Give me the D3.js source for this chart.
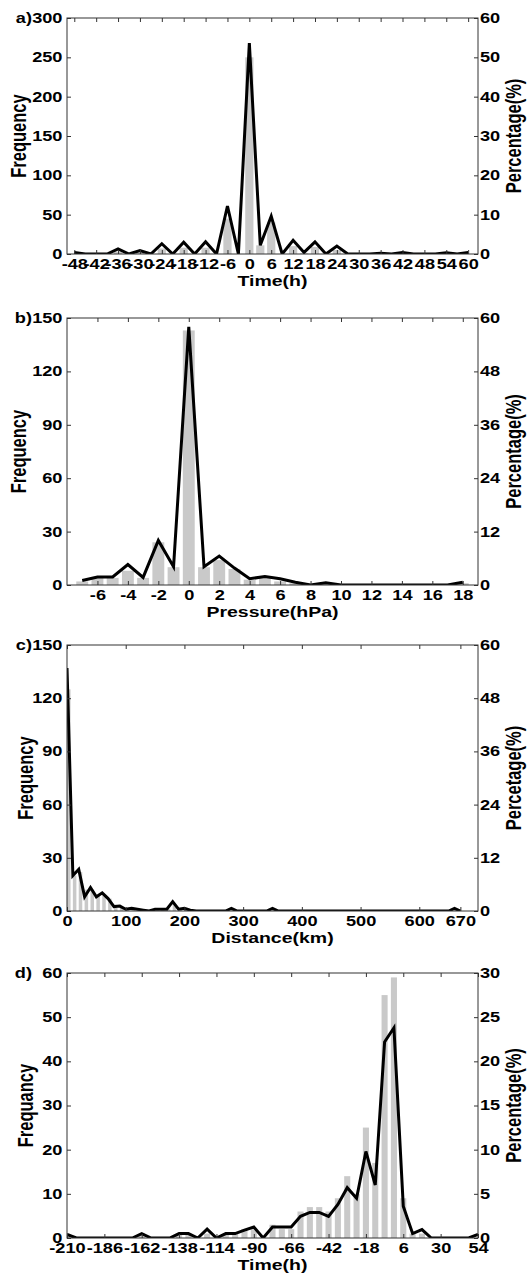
<!DOCTYPE html>
<meta charset="utf-8">
<style>
    body { margin: 0; background: #fff; }
    svg text { font-family: "Liberation Sans", Arial, sans-serif; font-weight: bold; fill: #000; }
    .axis path { display: none; }
    .axis line { stroke: #333; }
</style>
<body>
<div id="chart"></div>
<script src="https://cdn.jsdelivr.net/npm/d3@7"></script>
<script>
    // ---- data ----
    // a) time (h), bins every 3 h
    var timeA = d3.range(-48, 61, 3);
    var freqA = [0, 0, 0, 0, 3, 0, 2, 0, 7, 0, 8, 0, 8, 0, 45, 0, 250, 11, 40, 0,
                 10, 1, 9, 0, 5, 0, 0, 0, 0, 0, 1, 0, 0, 0, 0, 0, 0];
    var pctA = [0.4, 0, 0, 0, 1.3, 0, 0.9, 0, 2.6, 0, 3, 0, 3.1, 0, 12.2, 0, 53.6, 2.2, 9.6, 0,
                3.5, 0.4, 3.1, 0, 2, 0, 0, 0, 0.2, 0, 0.4, 0, 0, 0, 0.3, 0, 0.4];
    var ticksA = [-48, -42, -36, -30, -24, -18, -12, -6, 0, 6, 12, 18, 24, 30, 36, 42, 48, 54, 60];

    // b) pressure (hPa)
    var presB = d3.range(-7, 19, 1);
    var freqB = [2, 4, 4, 8, 4, 24, 10, 143, 10, 14, 9, 3, 4, 2, 1, 0, 1, 0, 0, 0,
                 0, 0, 0, 0, 0, 1];
    var pctB = [1, 1.8, 1.8, 4.6, 1.7, 10, 4.1, 58, 4.1, 6.5, 3.8, 1.4, 1.9, 1.4, 0.6, 0, 0.5, 0, 0, 0,
                0, 0, 0, 0, 0, 0.6];
    var ticksB = [-6, -4, -2, 0, 2, 4, 6, 8, 10, 12, 14, 16, 18];

    // c) distance (km), bins every 10 km
    var distC = d3.range(0, 671, 10);
    var freqC = [125, 20, 22, 12, 12, 9, 9, 7, 2, 2,
                 1, 1, 1, 0, 0, 1, 1, 1, 4, 1,
                 1, 0, 0, 0, 0, 0, 0, 0, 1, 0,
                 0, 0, 0, 0, 0, 1, 0, 0, 0, 0,
                 0, 0, 0, 0, 0, 0, 0, 0, 0, 0,
                 0, 0, 0, 0, 0, 0, 0, 0, 0, 0,
                 0, 0, 0, 0, 0, 0, 1, 0];
    var pctC = [54.8, 8, 9.4, 3.2, 5.3, 3.2, 4.1, 2.8, 1, 1.1,
                0.4, 0.6, 0.4, 0.2, 0, 0.4, 0.4, 0.4, 2.1, 0.4,
                0.6, 0.2, 0, 0, 0, 0, 0, 0, 0.6, 0,
                0, 0, 0, 0, 0, 0.6, 0, 0, 0, 0,
                0, 0, 0, 0, 0, 0, 0, 0, 0, 0,
                0, 0, 0, 0, 0, 0, 0, 0, 0, 0,
                0, 0, 0, 0, 0, 0, 0.6, 0];
    var ticksC = [0, 100, 200, 300, 400, 500, 600, 670];

    // d) time (h), bins every 6 h
    var timeD = d3.range(-210, 55, 6);
    var freqD = [1, 0, 0, 0, 0, 0, 0, 0, 1, 0,
                 0, 0, 1, 1, 0, 1, 0, 1, 1, 2,
                 2, 0, 3, 2, 2, 6, 7, 7, 6, 9,
                 14, 10, 25, 17, 55, 59, 9, 1, 1, 0,
                 0, 0, 0, 0, 0];
    var pctD = [0.4, 0, 0, 0, 0, 0, 0, 0, 0.5, 0,
                0, 0, 0.5, 0.5, 0, 1, 0, 0.5, 0.5, 0.9,
                1.25, 0, 1.25, 1.25, 1.25, 2.45, 2.9, 2.9, 2.45, 3.8,
                5.7, 4.5, 9.8, 6, 22.2, 23.8, 3.6, 0.5, 0.95, 0,
                0, 0, 0, 0, 0.4];
    var ticksD = [-210, -186, -162, -138, -114, -90, -66, -42, -18, 6, 30, 54];

    // ---- layout ----
    var W = 531, H = 1275, left = 67, right = 478, sx = 1.3, tickFont = 14;

    var panels = [
        { tag: "a)", top: 18, bottom: 254, xDom: [-50, 62.7], xs: timeA, freq: freqA, pct: pctA, xTicks: ticksA,
          fTicks: [0, 50, 100, 150, 200, 250, 300], pTicks: [0, 10, 20, 30, 40, 50, 60], step: 3, bw: 0.75, align: 0.5,
          xTitle: "Time(h)", yTitle: "Frequency", pTitle: "Percentage(%)", yx: 19 },
        { tag: "b)", top: 318, bottom: 585, xDom: [-8, 19], xs: presB, freq: freqB, pct: pctB, xTicks: ticksB,
          fTicks: [0, 30, 60, 90, 120, 150], pTicks: [0, 12, 24, 36, 48, 60], step: 1, bw: 0.78, align: 0.5,
          xTitle: "Pressure(hPa)", yTitle: "Frequency", pTitle: "Percentage(%)", yx: 19 },
        { tag: "c)", top: 645, bottom: 911, xDom: [0, 700], xs: distC, freq: freqC, pct: pctC, xTicks: ticksC,
          fTicks: [0, 30, 60, 90, 120, 150], pTicks: [0, 12, 24, 36, 48, 60], step: 10, bw: 0.6, align: 0,
          xTitle: "Distance(km)", yTitle: "Frequency", pTitle: "Percetage(%)", yx: 26 },
        { tag: "d)", top: 973, bottom: 1238, xDom: [-210, 54], xs: timeD, freq: freqD, pct: pctD, xTicks: ticksD,
          fTicks: [0, 10, 20, 30, 40, 50, 60], pTicks: [0, 5, 10, 15, 20, 25, 30], step: 6, bw: 0.65, align: 0.5,
          xTitle: "Time(h)", yTitle: "Frequancy", pTitle: "Percentage(%)", yx: 26 }
    ];

    var svg = d3.select("#chart").append("svg")
        .attr("width", W)
        .attr("height", H);

    // plain hyphen minus, as in the original figure
    var fmt = function (d) { return String(d); };

    function stretch(sel) {
        sel.selectAll("text").attr("transform", "scale(" + sx + ",1)");
    }

    panels.forEach(function (p, k) {
        var g = svg.append("g");

        var x = d3.scaleLinear().domain(p.xDom).range([left, right]);
        var y = d3.scaleLinear().domain([0, d3.max(p.fTicks)]).range([p.bottom, p.top]);
        var yp = d3.scaleLinear().domain([0, d3.max(p.pTicks)]).range([p.bottom, p.top]);

        g.append("clipPath").attr("id", "clip" + k)
            .append("rect")
            .attr("x", left).attr("y", p.top)
            .attr("width", right - left).attr("height", p.bottom - p.top);

        var plot = g.append("g").attr("clip-path", "url(#clip" + k + ")");
        var bw = (x(p.step) - x(0)) * p.bw;

        plot.selectAll("rect.bar")
            .data(p.xs)
            .join("rect")
            .attr("class", "bar")
            .attr("x", function (d) { return x(d) - bw * p.align; })
            .attr("y", function (d, i) { return y(p.freq[i]); })
            .attr("width", bw)
            .attr("height", function (d, i) { return p.bottom - y(p.freq[i]); })
            .attr("fill", "#c9c9c9");

        var line = d3.line()
            .x(function (d, i) { return x(p.xs[i]); })
            .y(function (d) { return yp(d); });

        plot.append("path")
            .datum(p.pct)
            .attr("d", line)
            .attr("fill", "none")
            .attr("stroke", "#000")
            .attr("stroke-width", 3)
            .attr("stroke-linejoin", "miter");

        // axes, ticks pointing inward like the original
        var bottomAx = g.append("g").attr("class", "axis")
            .attr("transform", "translate(0," + p.bottom + ")")
            .call(d3.axisBottom(x).tickValues(p.xTicks).tickFormat(fmt).tickSizeInner(-4).tickSizeOuter(0).tickPadding(5.5))
            .attr("font-size", tickFont).attr("font-family", null);
        stretch(bottomAx);

        g.append("g").attr("class", "axis")
            .attr("transform", "translate(0," + p.top + ")")
            .call(d3.axisTop(x).tickValues(p.xTicks).tickSizeInner(-4).tickSizeOuter(0).tickFormat(""));

        var leftAx = g.append("g").attr("class", "axis")
            .attr("transform", "translate(" + left + ",0)")
            .call(d3.axisLeft(y).tickValues(p.fTicks).tickFormat(fmt).tickSizeInner(-4).tickSizeOuter(0).tickPadding(3.5))
            .attr("font-size", tickFont).attr("font-family", null);
        stretch(leftAx);

        var rightAx = g.append("g").attr("class", "axis")
            .attr("transform", "translate(" + right + ",0)")
            .call(d3.axisRight(yp).tickValues(p.pTicks).tickFormat(fmt).tickSizeInner(-4).tickSizeOuter(0).tickPadding(1.5))
            .attr("font-size", tickFont).attr("font-family", null);
        stretch(rightAx);

        g.append("rect")
            .attr("x", left).attr("y", p.top)
            .attr("width", right - left).attr("height", p.bottom - p.top)
            .attr("fill", "none").attr("stroke", "#333");

        // panel letter
        g.append("text")
            .attr("transform", "translate(32," + (p.top + 4.5) + ") scale(" + sx + ",1)")
            .attr("text-anchor", "end")
            .attr("font-size", 14)
            .text(p.tag);

        // axis titles
        g.append("text")
            .attr("transform", "translate(" + ((left + right) / 2) + "," + (p.bottom + 32) + ") scale(" + sx + ",1)")
            .attr("text-anchor", "middle")
            .attr("font-size", 15)
            .text(p.xTitle);

        var cy = (p.top + p.bottom) / 2;
        g.append("text")
            .attr("transform", "translate(" + (p.yx + 7) + "," + cy + ") scale(" + sx + ",1) rotate(-90)")
            .attr("text-anchor", "middle")
            .attr("font-size", 16.5)
            .text(p.yTitle);

        g.append("text")
            .attr("transform", "translate(521," + cy + ") scale(" + sx + ",1) rotate(-90)")
            .attr("text-anchor", "middle")
            .attr("font-size", 16.5)
            .text(p.pTitle);
    });
</script>
</body>
